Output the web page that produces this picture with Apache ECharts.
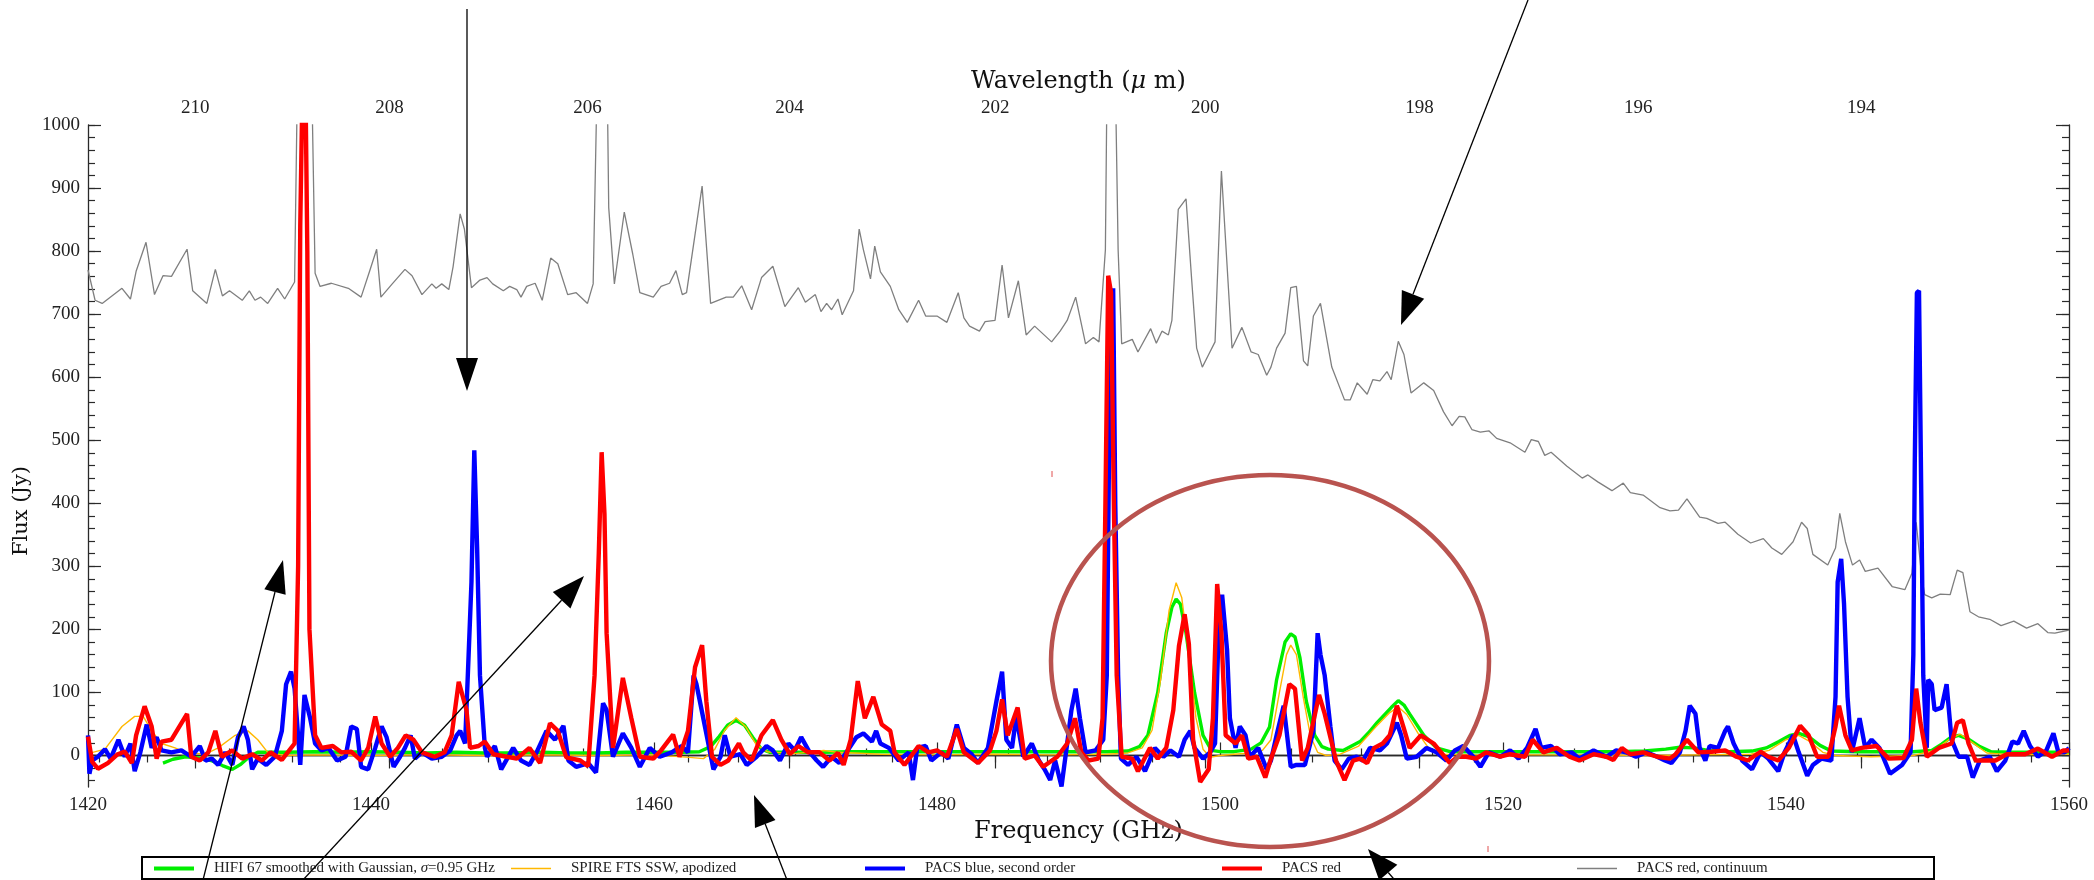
<!DOCTYPE html>
<html>
<head>
<meta charset="utf-8">
<style>
html,body{margin:0;padding:0;background:#fff;}
#chart{width:2094px;height:880px;}
</style>
<script src="https://cdn.jsdelivr.net/npm/echarts@6/dist/echarts.min.js"></script>
</head>
<body>
<div id="chart"></div>
<script>
// ---------- data (frequency GHz, flux Jy) ----------
const hifiGreen = [[1425.3,-12],[1426.0,-6],[1426.9,-2],[1427.8,-4],[1428.7,-8],[1429.5,-16],[1430.2,-22],[1430.8,-14],[1431.4,-2],[1432.0,5],[1434,5],[1436,6],[1438,5],[1440,6],[1442,5],[1444,4],[1446,5],[1448,4],[1450,4],[1452,5],[1454,4],[1456,4],[1458,5],[1460,5],[1462,5],[1463.2,6],[1464.0,14],[1464.6,30],[1465.2,48],[1465.8,56],[1466.4,48],[1467.0,28],[1467.6,10],[1468.2,5],[1470,5],[1472,5],[1474,6],[1476,6],[1478,6],[1480,6],[1482,6],[1484,6],[1486,6],[1488,6],[1490,6],[1492,6],[1493.5,7],[1494.3,14],[1494.9,32],[1495.6,100],[1496.2,194],[1496.6,235],[1496.9,248],[1497.2,240],[1497.6,194],[1498.2,100],[1498.8,32],[1499.4,8],[1500,6],[1501,6],[1502.2,10],[1502.9,20],[1503.5,45],[1504.0,120],[1504.6,180],[1505.0,193],[1505.3,188],[1505.65,155],[1506.1,86],[1506.7,32],[1507.2,14],[1507.65,10],[1508.7,8],[1509.9,22],[1510.5,36],[1511.1,52],[1512.1,76],[1512.6,87],[1513.0,80],[1513.4,66],[1514.4,32],[1515.3,12],[1516.25,6],[1518,6],[1520,6],[1522,6],[1524,6],[1526,6],[1528,6],[1530,7],[1531.5,10],[1532.5,13],[1533.5,12],[1534.5,8],[1536,6],[1537.6,7],[1538.6,12],[1539.5,22],[1540.3,32],[1540.9,35],[1541.6,30],[1542.4,16],[1543.2,7],[1545,6],[1547,6],[1549,6],[1550.3,8],[1551.0,18],[1551.6,28],[1552.2,32],[1552.9,26],[1553.7,14],[1554.5,6],[1556,5],[1558,5],[1560,5]];

const spireOrange = [[1420,3],[1421.2,10],[1422.4,46],[1423.3,62],[1423.9,62],[1424.5,39],[1425.2,19],[1426.15,12],[1426.85,5],[1428.3,2],[1429.2,12],[1430.4,32],[1431.3,39],[1432.0,25],[1432.7,5],[1433.9,0],[1436,1],[1440,0],[1444,1],[1448,0],[1452,1],[1456,0],[1460,1],[1462.5,-3],[1463.5,-5],[1464.3,10],[1465.0,40],[1465.8,60],[1466.5,45],[1467.2,18],[1468,6],[1470,3],[1472,8],[1473,5],[1476,2],[1480,1],[1484,2],[1488,1],[1492,2],[1493.5,4],[1494.5,12],[1495.2,40],[1495.8,120],[1496.4,230],[1496.9,274],[1497.3,250],[1497.8,160],[1498.3,60],[1498.8,10],[1499.3,-3],[1500,0],[1501,2],[1502.2,4],[1503.0,8],[1503.6,25],[1504.2,100],[1504.7,160],[1505.0,175],[1505.4,160],[1505.9,90],[1506.4,30],[1506.9,5],[1507.5,0],[1508.5,2],[1509.8,15],[1511.0,45],[1512.0,68],[1512.6,77],[1513.2,65],[1514.0,35],[1514.8,10],[1515.6,2],[1518,1],[1522,1],[1526,1],[1530,0],[1534,1],[1537.5,2],[1538.8,8],[1540.0,25],[1540.9,32],[1541.7,22],[1542.6,5],[1543.5,0],[1546,-2],[1549,0],[1550.5,8],[1551.5,25],[1552.3,34],[1553.2,20],[1554.2,4],[1556,1],[1560,2]];

const pacsBlue = [[1420.0,32],[1420.1,-29],[1420.3,-8],[1420.7,-2],[1421.2,10],[1421.6,-5],[1422.15,25],[1422.6,-2],[1423.0,19],[1423.3,-25],[1423.7,5],[1424.15,49],[1424.5,12],[1424.85,29],[1425.2,8],[1425.9,5],[1426.6,8],[1427.3,-2],[1427.9,15],[1428.3,-8],[1428.75,-5],[1429.2,-15],[1429.7,5],[1430.2,-15],[1430.6,29],[1431.0,46],[1431.3,25],[1431.6,-22],[1432.0,-5],[1432.6,-15],[1433.2,-2],[1433.7,39],[1434.0,113],[1434.35,133],[1434.6,106],[1435.0,-15],[1435.3,96],[1435.7,59],[1436.05,19],[1436.5,8],[1437.0,12],[1437.6,-8],[1438.2,-2],[1438.6,46],[1439.0,42],[1439.3,-18],[1439.8,-22],[1440.3,12],[1440.75,46],[1441.1,29],[1441.6,-18],[1442.05,-2],[1442.4,12],[1442.8,32],[1443.1,-5],[1443.6,5],[1444.3,-5],[1445.0,-2],[1445.6,8],[1446.05,32],[1446.3,39],[1446.65,19],[1446.9,160],[1447.1,275],[1447.3,484],[1447.5,329],[1447.7,127],[1448.05,12],[1448.2,-2],[1448.75,15],[1449.2,-22],[1450.05,12],[1450.6,-8],[1451.2,-15],[1451.7,5],[1452.4,39],[1453.0,25],[1453.6,47],[1453.95,-8],[1454.5,-18],[1455.35,-12],[1455.9,-27],[1456.4,83],[1456.65,72],[1457.1,-2],[1457.8,35],[1458.4,12],[1459.0,-18],[1459.7,12],[1460.4,-2],[1461.25,5],[1461.95,15],[1462.4,5],[1462.8,127],[1463.0,113],[1463.6,46],[1464.2,-22],[1464.7,-2],[1465.0,32],[1465.4,-2],[1466.1,2],[1466.55,-15],[1467.25,-2],[1467.95,15],[1468.4,8],[1468.9,-8],[1469.5,19],[1469.95,8],[1470.4,29],[1471.0,5],[1471.5,-8],[1471.95,-18],[1472.55,-2],[1473.1,-12],[1473.6,5],[1474.3,29],[1474.8,35],[1475.4,22],[1475.7,39],[1476.0,19],[1476.6,12],[1477.3,-8],[1478.0,5],[1478.3,-39],[1478.6,12],[1479.2,15],[1479.6,-8],[1480.3,5],[1480.8,-5],[1481.4,49],[1481.9,12],[1482.45,2],[1482.9,-12],[1483.6,12],[1484.2,86],[1484.6,133],[1484.9,25],[1485.3,12],[1485.6,62],[1486.1,-2],[1486.7,19],[1487.2,-8],[1487.6,-22],[1488.0,-39],[1488.35,-8],[1488.8,-49],[1489.2,19],[1489.5,72],[1489.8,106],[1490.1,59],[1490.5,5],[1491.2,8],[1491.75,25],[1492.0,127],[1492.2,572],[1492.45,741],[1492.6,397],[1492.8,127],[1493.0,-5],[1493.5,-15],[1494.1,-2],[1494.7,-25],[1495.4,12],[1496.0,-2],[1496.5,8],[1497.1,-2],[1497.5,25],[1497.9,39],[1498.2,12],[1498.8,-5],[1499.3,5],[1499.65,19],[1499.9,194],[1500.15,255],[1500.5,167],[1500.7,59],[1501.1,12],[1501.4,46],[1501.8,32],[1502.1,-2],[1502.7,12],[1503.3,-22],[1503.6,-8],[1504.0,32],[1504.5,79],[1505.0,-18],[1505.4,-15],[1506.0,-15],[1506.6,39],[1506.9,194],[1507.1,160],[1507.4,127],[1507.8,46],[1508.1,-8],[1508.6,-22],[1509.1,-5],[1509.65,-2],[1510.1,-8],[1510.6,12],[1511.3,8],[1511.8,19],[1512.5,52],[1512.8,32],[1513.2,-5],[1513.9,-2],[1514.6,12],[1515.3,5],[1516.0,-8],[1516.6,8],[1517.2,15],[1517.9,-2],[1518.4,-18],[1519.0,5],[1519.8,-2],[1520.5,8],[1521.1,-5],[1521.7,12],[1522.3,42],[1522.7,12],[1523.4,15],[1524.0,2],[1524.85,5],[1525.4,-5],[1526.4,8],[1527.3,-2],[1528.0,8],[1528.7,5],[1529.4,-2],[1530.15,5],[1530.9,-2],[1531.45,-8],[1531.9,-12],[1532.5,5],[1532.9,39],[1533.2,79],[1533.6,66],[1533.9,12],[1534.3,-8],[1534.6,15],[1535.2,12],[1535.7,39],[1535.9,46],[1536.3,19],[1536.9,-8],[1537.6,-22],[1538.2,5],[1538.75,-5],[1539.45,-25],[1539.9,5],[1540.5,32],[1540.9,5],[1541.5,-32],[1541.9,-15],[1542.5,-5],[1543.2,-8],[1543.5,93],[1543.65,275],[1543.9,312],[1544.1,241],[1544.35,93],[1544.65,5],[1545.2,59],[1545.6,12],[1546.05,25],[1546.6,12],[1547.35,-29],[1548.2,-15],[1548.8,5],[1549.0,160],[1549.1,464],[1549.25,734],[1549.4,737],[1549.55,430],[1549.7,127],[1549.95,12],[1550.05,120],[1550.3,113],[1550.5,72],[1551.0,76],[1551.35,113],[1551.7,25],[1552.2,-2],[1552.8,-2],[1553.2,-35],[1553.7,-8],[1554.4,-2],[1554.9,-25],[1555.5,-8],[1556.0,22],[1556.4,19],[1556.8,39],[1557.25,15],[1557.8,-2],[1558.4,8],[1558.9,35],[1559.25,5],[1559.7,5],[1560.0,12]];

const pacsRed = [[1420.0,30],[1420.3,-10],[1420.7,-21],[1421.4,-12],[1422.1,2],[1422.6,6],[1423.1,-12],[1423.4,32],[1424.0,78],[1424.5,46],[1424.85,-5],[1425.2,22],[1425.9,25],[1427.0,66],[1427.3,-2],[1427.9,-8],[1428.5,5],[1429.0,39],[1429.45,-2],[1430.2,8],[1430.9,-5],[1431.6,2],[1432.3,-8],[1432.9,5],[1433.7,-7],[1434.6,19],[1434.85,300],[1435.0,840],[1435.15,1050],[1435.35,1100],[1435.5,800],[1435.65,200],[1436.05,32],[1436.5,12],[1437.3,15],[1437.9,5],[1438.6,6],[1439.3,-8],[1439.8,12],[1440.3,62],[1440.75,19],[1441.35,-2],[1441.9,12],[1442.45,32],[1443.0,25],[1443.6,5],[1444.5,-2],[1445.2,5],[1445.7,32],[1446.2,117],[1446.75,72],[1447.0,12],[1447.6,15],[1448.05,22],[1448.65,2],[1449.6,-2],[1450.3,-5],[1451.2,12],[1451.95,-12],[1452.65,51],[1453.2,39],[1453.8,-3],[1454.8,-8],[1455.35,-17],[1455.8,127],[1456.1,322],[1456.3,481],[1456.5,383],[1456.65,194],[1457.1,12],[1457.8,123],[1458.4,59],[1459.0,-2],[1459.95,-5],[1460.5,8],[1461.35,33],[1461.8,-2],[1462.4,39],[1462.9,140],[1463.4,175],[1463.7,86],[1464.1,-2],[1464.7,-15],[1465.25,-8],[1466.0,19],[1466.3,5],[1466.9,-8],[1467.6,32],[1468.4,56],[1469.0,25],[1469.6,2],[1470.2,15],[1470.9,5],[1471.7,5],[1472.4,-8],[1473.0,4],[1473.4,-15],[1473.9,25],[1474.4,118],[1474.9,59],[1475.5,93],[1476.1,49],[1476.7,39],[1477.0,5],[1477.7,-15],[1478.7,15],[1479.4,5],[1480.0,8],[1480.7,-2],[1481.4,42],[1481.9,5],[1482.9,-12],[1483.75,8],[1484.2,39],[1484.6,89],[1485.0,32],[1485.7,76],[1486.2,-5],[1486.9,0],[1487.5,-18],[1488.5,-2],[1489.2,19],[1489.75,59],[1490.2,5],[1490.7,-8],[1491.4,-5],[1491.7,59],[1491.9,397],[1492.1,761],[1492.3,734],[1492.5,397],[1492.7,127],[1493.05,-2],[1493.8,-5],[1494.2,-25],[1495.05,12],[1495.6,-5],[1496.2,12],[1496.7,72],[1497.1,174],[1497.5,224],[1497.8,177],[1498.1,25],[1498.6,-42],[1499.2,-22],[1499.5,59],[1499.8,272],[1500.1,194],[1500.4,32],[1501.1,19],[1501.55,32],[1502.0,-5],[1502.6,-2],[1503.2,-35],[1503.6,-5],[1504.2,32],[1504.9,113],[1505.3,106],[1505.8,-8],[1506.2,12],[1507.0,96],[1507.4,66],[1508.2,-8],[1508.8,-39],[1509.4,-8],[1509.9,-5],[1510.4,-12],[1510.9,12],[1511.5,19],[1512.0,32],[1512.5,79],[1512.95,46],[1513.4,12],[1514.2,32],[1515.1,19],[1516.25,-12],[1516.8,-2],[1517.4,-2],[1518.1,-5],[1518.8,5],[1519.8,-2],[1520.5,2],[1521.55,-2],[1522.1,25],[1522.85,5],[1523.8,12],[1524.7,-2],[1525.4,-8],[1526.4,2],[1527.3,-2],[1527.8,-7],[1528.4,12],[1529.0,2],[1529.9,5],[1530.9,-2],[1531.8,-5],[1532.2,2],[1533.0,25],[1533.8,5],[1534.75,6],[1535.7,8],[1536.5,-2],[1537.3,-8],[1538.2,6],[1538.75,-2],[1539.45,-8],[1540.2,12],[1541.0,47],[1541.6,32],[1542.2,-2],[1543.0,-2],[1543.5,46],[1543.75,79],[1544.2,32],[1544.65,8],[1545.35,12],[1546.4,15],[1547.25,-5],[1548.3,-4],[1548.9,25],[1549.2,106],[1549.5,52],[1549.95,-2],[1550.8,12],[1551.7,19],[1552.1,52],[1552.5,56],[1552.9,19],[1553.4,-8],[1554.8,-8],[1555.6,2],[1556.9,2],[1557.8,11],[1558.8,-2],[1559.6,8],[1560.0,8]];

const pacsContinuum = [[1420.0,770],[1420.5,722],[1421.0,717],[1422.4,741],[1423.0,724],[1423.4,768],[1424.1,814],[1424.7,731],[1425.3,761],[1425.9,760],[1427.0,803],[1427.4,737],[1428.4,717],[1429.0,771],[1429.5,729],[1430.0,737],[1430.9,722],[1431.4,737],[1431.8,722],[1432.2,727],[1432.7,717],[1433.4,741],[1433.9,724],[1434.6,751],[1434.85,1150],[1435.3,1400],[1435.75,1150],[1436.05,765],[1436.4,744],[1437.2,749],[1438.4,741],[1439.3,727],[1439.9,768],[1440.4,803],[1440.7,727],[1441.5,748],[1442.4,771],[1442.9,761],[1443.6,731],[1444.3,748],[1444.6,741],[1445.0,748],[1445.5,739],[1445.8,775],[1446.3,859],[1446.6,835],[1447.1,742],[1447.7,754],[1448.2,758],[1448.6,748],[1449.35,737],[1449.8,744],[1450.3,739],[1450.6,727],[1451.0,744],[1451.6,749],[1452.1,722],[1452.7,789],[1453.2,780],[1453.9,731],[1454.5,734],[1455.3,717],[1455.7,748],[1456.05,1150],[1456.35,1300],[1456.65,1150],[1456.8,869],[1457.2,748],[1457.9,862],[1458.5,795],[1459.0,734],[1459.95,727],[1460.5,744],[1461.1,749],[1461.55,769],[1462.0,731],[1462.3,734],[1463.4,903],[1464.0,717],[1465.1,727],[1465.6,727],[1466.2,745],[1466.9,707],[1467.6,758],[1468.4,776],[1469.25,712],[1470.2,742],[1470.7,719],[1471.4,731],[1471.8,704],[1472.2,717],[1472.55,707],[1473.0,724],[1473.3,699],[1474.1,737],[1474.5,835],[1474.8,802],[1475.3,756],[1475.6,808],[1476.0,767],[1476.7,744],[1477.3,707],[1477.9,687],[1478.7,722],[1479.2,697],[1480.0,697],[1480.7,687],[1481.5,734],[1481.9,694],[1482.3,681],[1483.0,673],[1483.4,688],[1484.1,690],[1484.6,778],[1485.05,694],[1485.75,753],[1486.3,667],[1486.9,681],[1488.1,656],[1488.7,673],[1489.2,690],[1489.8,727],[1490.5,653],[1491.05,663],[1491.45,656],[1491.9,802],[1492.05,1150],[1492.3,1400],[1492.55,1150],[1492.8,802],[1493.05,653],[1493.8,660],[1494.2,640],[1495.1,677],[1495.5,654],[1495.9,673],[1496.35,667],[1496.6,690],[1497.05,866],[1497.6,883],[1498.0,754],[1498.35,646],[1498.75,616],[1499.2,636],[1499.65,656],[1500.1,927],[1500.85,646],[1501.55,679],[1502.2,640],[1502.7,636],[1503.3,603],[1503.6,616],[1504.0,646],[1504.6,670],[1505.0,742],[1505.4,744],[1505.9,626],[1506.2,618],[1506.6,697],[1507.1,717],[1507.9,616],[1508.8,564],[1509.2,564],[1509.7,591],[1510.4,573],[1510.8,596],[1511.3,594],[1511.8,609],[1512.1,596],[1512.6,657],[1513.0,636],[1513.5,575],[1514.4,591],[1515.1,579],[1515.8,545],[1516.4,523],[1516.9,538],[1517.3,537],[1517.8,517],[1518.4,513],[1519.0,515],[1519.55,503],[1520.5,496],[1521.55,481],[1522.0,501],[1522.5,498],[1522.95,476],[1523.4,481],[1524.5,459],[1525.6,440],[1526.0,445],[1526.7,434],[1527.7,420],[1528.5,432],[1529.0,417],[1529.9,413],[1531.1,393],[1531.8,388],[1532.4,389],[1533.0,407],[1533.9,378],[1534.4,376],[1535.2,368],[1535.7,370],[1536.6,351],[1537.5,337],[1538.4,344],[1539.0,329],[1539.7,319],[1540.5,339],[1541.1,370],[1541.5,360],[1541.9,319],[1542.95,302],[1543.5,329],[1543.8,384],[1544.2,339],[1544.7,302],[1545.2,310],[1545.6,292],[1546.5,297],[1547.5,268],[1548.4,263],[1548.9,289],[1549.2,370],[1549.6,282],[1549.8,255],[1550.3,250],[1550.9,256],[1551.6,255],[1552.1,294],[1552.5,290],[1553.0,228],[1553.6,220],[1554.4,216],[1555.2,206],[1556.1,213],[1557.0,202],[1557.8,209],[1558.5,195],[1559.0,194],[1560.0,199]];

// ---------- ticks ----------
const wavelengthLabels = [210, 208, 206, 204, 202, 200, 198, 196, 194];
const wavelengthMinorTicks = [211, 210.5, 210, 209.5, 209, 208.5, 208, 207.5, 207, 206.5, 206, 205.5, 205, 204.5, 204, 203.5, 203, 202.5, 202, 201.5, 201, 200.5, 200, 199.5, 199, 198.5, 198, 197.5, 197, 196.5, 196, 195.5, 195, 194.5, 194, 193.5, 193, 192.5];
const fluxLabels = [0, 100, 200, 300, 400, 500, 600, 700, 800, 900, 1000];
const fluxMinorTicks = [-40,-20,0,20,40,60,80,100,120,140,160,180,200,220,240,260,280,300,320,340,360,380,400,420,440,460,480,500,520,540,560,580,600,620,640,660,680,700,720,740,760,780,800,820,840,860,880,900,920,940,960,980,1000];

const SPEED_C = 299792.458; // um*GHz
const waveToFreq = w => SPEED_C / w;

const seriesNames = {
  green: 'HIFI 67 smoothed with Gaussian, σ=0.95 GHz',
  orange: 'SPIRE FTS SSW, apodized',
  blue: 'PACS blue, second order',
  red: 'PACS red',
  gray: 'PACS red, continuum'
};

const AX = '#2a2a2a';
const serif = "'Liberation Serif', 'DejaVu Serif', serif";
const titleFont = "'DejaVu Serif', serif";

function arrow(x1, y1, x2, y2, len, hw) {
  const dx = x2 - x1, dy = y2 - y1, L = Math.hypot(dx, dy);
  const ux = dx / L, uy = dy / L;
  const bx = x2 - ux * len, by = y2 - uy * len;
  const px = -uy, py = ux;
  return [
    { type: 'line', z: 200, shape: { x1: x1, y1: y1, x2: bx, y2: by }, style: { stroke: '#000', lineWidth: 1.3 } },
    { type: 'polygon', z: 200, shape: { points: [[x2, y2], [bx + px * hw, by + py * hw], [bx - px * hw, by - py * hw]] }, style: { fill: '#000' } }
  ];
}

const graphics = [].concat(
  arrow(467, 9, 467, 391, 33, 11),
  arrow(1528, 0, 1401, 325, 33, 12),
  arrow(203, 880, 283, 560, 33, 11),
  arrow(303, 880, 584, 576, 33, 12),
  arrow(787, 880, 754, 795, 31, 11),
  arrow(1412, 900, 1368, 849, 31, 12),
  [
    { type: 'ellipse', z: 190, shape: { cx: 1270, cy: 661, rx: 219, ry: 186 }, style: { fill: null, stroke: '#b9534f', lineWidth: 4.5 } },
    { type: 'rect', z: 150, shape: { x: 142, y: 857, width: 1792, height: 22 }, style: { fill: null, stroke: '#000', lineWidth: 2 } },
    { type: 'text', z: 150, x: 22, y: 511, rotation: Math.PI / 2, style: { text: 'Flux (Jy)', font: "21px 'DejaVu Serif', serif", fill: '#111', align: 'center', verticalAlign: 'middle' } },
    { type: 'line', z: 150, shape: { x1: 1052, y1: 471, x2: 1052, y2: 477 }, style: { stroke: '#e05050', lineWidth: 1 } },
    { type: 'line', z: 150, shape: { x1: 1488, y1: 846, x2: 1488, y2: 852 }, style: { stroke: '#e05050', lineWidth: 1 } }
  ]
);

const chart = echarts.init(document.getElementById('chart'), null, { renderer: 'canvas' });

const lineSeries = (name, data, color, width, z) => ({
  name: name, type: 'line', data: data, xAxisIndex: 0, yAxisIndex: 0,
  symbol: 'none', showSymbol: false, smooth: false, clip: true, z: z,
  lineStyle: { color: color, width: width }, itemStyle: { color: color },
  emphasis: { disabled: true }
});

// one legend block per entry so each entry sits at its own slot
const legendSlots = [
  { name: seriesNames.green, left: 154, h: 4 },
  { name: seriesNames.orange, left: 511, h: 1.6 },
  { name: seriesNames.blue, left: 865, h: 4 },
  { name: seriesNames.red, left: 1222, h: 4 },
  { name: seriesNames.gray, left: 1577, h: 1.4 }
];
const legends = legendSlots.map(s => ({
  left: s.left, top: 861, padding: 0, itemGap: 0, itemWidth: 40, itemHeight: s.h,
  icon: 'rect', data: [s.name],
  formatter: n => '\u2003' + n.replace('σ', '{i|σ}'),
  textStyle: {
    fontFamily: serif, fontSize: 15, color: '#222',
    rich: { i: { fontFamily: serif, fontSize: 15, fontStyle: 'italic', color: '#222' } }
  }
}));

const plain = v => String(v);

const option = {
  animation: false,
  backgroundColor: '#fff',
  grid: { left: 88, right: 25, top: 125, bottom: 93, containLabel: false },
  legend: legends,
  xAxis: [
    {
      type: 'value', position: 'bottom', min: 1420, max: 1560, interval: 20,
      axisLine: { show: true, lineStyle: { color: AX, width: 1.3 } },
      axisTick: { show: true, inside: true, length: 13, lineStyle: { color: AX, width: 1.2 } },
      minorTick: { show: true, splitNumber: 4, length: 7, lineStyle: { color: AX, width: 1.2 } },
      splitLine: { show: false }, minorSplitLine: { show: false },
      axisLabel: { formatter: plain, fontFamily: serif, fontSize: 19, color: '#222', margin: 9 },
      name: 'Frequency (GHz)', nameLocation: 'middle', nameGap: 30,
      nameTextStyle: { fontFamily: titleFont, fontSize: 24, color: '#111' }
    },
    {
      type: 'value', position: 'top', min: 1420, max: 1560,
      axisLine: { show: true, lineStyle: { color: AX, width: 1.3 } },
      axisTick: { show: true, inside: true, length: 13, customValues: wavelengthLabels.map(waveToFreq), lineStyle: { color: AX, width: 1.2 } },
      axisLabel: { show: true, customValues: wavelengthLabels.map(waveToFreq), formatter: v => String(Math.round(SPEED_C / v)), fontFamily: serif, fontSize: 19, color: '#222', margin: 7 },
      splitLine: { show: false },
      name: 'Wavelength ({i|μ} m)', nameLocation: 'middle', nameGap: 30,
      nameTextStyle: { fontFamily: titleFont, fontSize: 24, color: '#111', rich: { i: { fontFamily: titleFont, fontSize: 24, fontStyle: 'italic', color: '#111' } } }
    },
    {
      type: 'value', position: 'top', min: 1420, max: 1560,
      axisLine: { show: false },
      axisTick: { show: true, inside: true, length: 7, customValues: wavelengthMinorTicks.map(waveToFreq), lineStyle: { color: AX, width: 1.2 } },
      axisLabel: { show: false }, splitLine: { show: false }
    }
  ],
  yAxis: [
    {
      type: 'value', position: 'left', min: -50, max: 1000,
      axisLine: { show: true, lineStyle: { color: AX, width: 1.3 } },
      axisTick: { show: true, inside: true, length: 13, customValues: fluxLabels, lineStyle: { color: AX, width: 1.2 } },
      axisLabel: { show: true, customValues: fluxLabels, formatter: plain, fontFamily: serif, fontSize: 19, color: '#222', margin: 8 },
      splitLine: { show: false }
    },
    {
      type: 'value', position: 'left', min: -50, max: 1000,
      axisLine: { show: false },
      axisTick: { show: true, inside: true, length: 7, customValues: fluxMinorTicks, lineStyle: { color: AX, width: 1.2 } },
      axisLabel: { show: false }, splitLine: { show: false }
    },
    {
      type: 'value', position: 'right', min: -50, max: 1000,
      axisLine: { show: true, lineStyle: { color: AX, width: 1.3 } },
      axisTick: { show: true, inside: true, length: 13, customValues: fluxLabels, lineStyle: { color: AX, width: 1.2 } },
      axisLabel: { show: false }, splitLine: { show: false }
    },
    {
      type: 'value', position: 'right', min: -50, max: 1000,
      axisLine: { show: false },
      axisTick: { show: true, inside: true, length: 7, customValues: fluxMinorTicks, lineStyle: { color: AX, width: 1.2 } },
      axisLabel: { show: false }, splitLine: { show: false }
    }
  ],
  series: [
    lineSeries(seriesNames.gray, pacsContinuum, '#7f7f7f', 1.3, 2),
    lineSeries(seriesNames.green, hifiGreen, '#00ee00', 3.4, 3),
    lineSeries(seriesNames.orange, spireOrange, '#ffb800', 1.4, 4),
    lineSeries(seriesNames.blue, pacsBlue, '#0000ff', 4.4, 5),
    lineSeries(seriesNames.red, pacsRed, '#ff0000', 4.4, 6)
  ],
  graphic: graphics
};

chart.setOption(option);
</script>
</body>
</html>
